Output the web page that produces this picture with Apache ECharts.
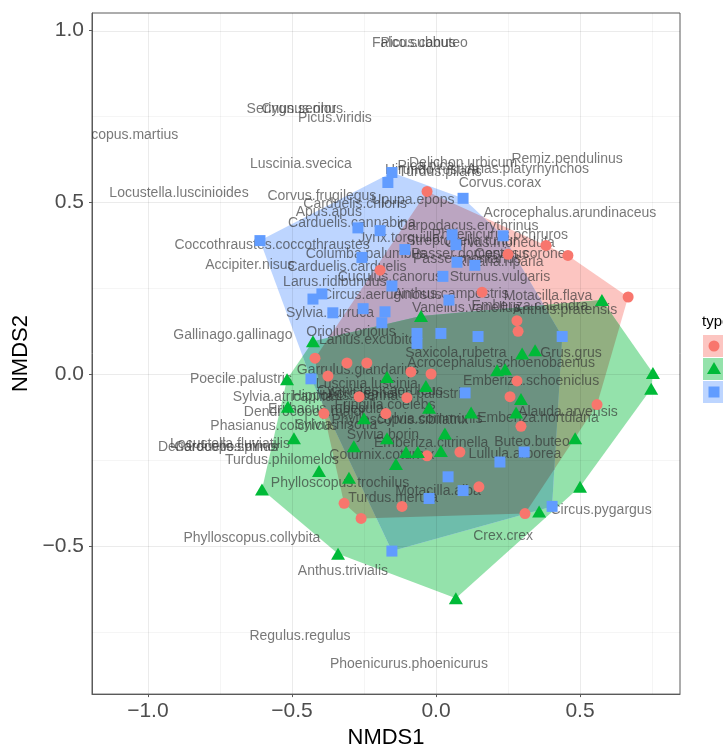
<!DOCTYPE html>
<html>
<head>
<meta charset="utf-8">
<script src="https://cdn.jsdelivr.net/npm/echarts@6/dist/echarts.min.js"></script>
<style>
  html, body { margin: 0; padding: 0; background: #ffffff; }
  #chart { width: 723px; height: 754px; }
</style>
</head>
<body>
<div id="chart"></div>
<script>
// ---- Axis ticks ----
const xTicks = [-1.0, -0.5, 0.0, 0.5];
const yTicks = [-0.5, 0.0, 0.5, 1.0];
const xMinor = [-0.75, -0.25, 0.25, 0.75];
const yMinor = [-0.75, -0.25, 0.25, 0.75];

// ---- Site scores, group 1 (red circles) ----
const siteX1 = [-0.031, 0.382, 0.250, 0.458, -0.194, 0.160, 0.667, 0.281, 0.285, -0.420,
                -0.309, -0.240, -0.375, -0.087, -0.017, -0.267, -0.101, -0.389, -0.174, -0.031,
                -0.319, -0.118, 0.281, 0.257, 0.559, 0.295, 0.083, 0.149, 0.309, -0.260];
const siteY1 = [0.532, 0.375, 0.349, 0.346, 0.303, 0.239, 0.225, 0.156, 0.125, 0.047,
                0.033, 0.033, -0.005, 0.007, 0.001, -0.065, -0.068, -0.114, -0.114, -0.237,
                -0.375, -0.384, -0.019, -0.065, -0.088, -0.151, -0.226, -0.327, -0.405, -0.419];

// ---- Site scores, group 2 (green triangles) ----
const siteX2 = [-0.052, -0.427, 0.576, 0.344, 0.299, 0.212, 0.240, 0.753, 0.747, -0.517,
                -0.170, -0.035, -0.514, -0.024, -0.250, 0.295, 0.122, 0.278, -0.493, -0.285,
                -0.170, 0.031, -0.104, -0.063, 0.017, -0.139, 0.483, -0.406, -0.302, -0.604,
                0.500, 0.358, -0.340, 0.069];
const siteY2 = [0.170, 0.096, 0.216, 0.070, 0.061, 0.012, 0.015, 0.004, -0.042, -0.014,
                -0.008, -0.034, -0.094, -0.097, -0.128, -0.072, -0.111, -0.111, -0.186, -0.209,
                -0.186, -0.172, -0.226, -0.226, -0.223, -0.261, -0.186, -0.281, -0.301, -0.335,
                -0.327, -0.399, -0.522, -0.651];

// ---- Site scores, group 3 (blue squares) ----
const siteX3 = [-0.153, -0.167, 0.094, -0.194, -0.611, -0.271, -0.108, -0.257, 0.056, 0.069,
                0.073, 0.135, 0.024, 0.233, -0.153, -0.396, -0.427, -0.358, -0.253, -0.177,
                -0.188, 0.045, -0.066, -0.066, 0.017, 0.146, 0.438, -0.434, 0.101, 0.306,
                0.222, 0.094, 0.042, -0.024, 0.403, -0.153];
const siteY3 = [0.587, 0.558, 0.512, 0.418, 0.389, 0.426, 0.363, 0.340, 0.406, 0.377,
                0.326, 0.317, 0.285, 0.403, 0.257, 0.234, 0.219, 0.179, 0.191, 0.182,
                0.150, 0.216, 0.119, 0.090, 0.119, 0.110, 0.110, -0.013, -0.054, -0.226,
                -0.255, -0.338, -0.298, -0.361, -0.384, -0.514];

// ---- Species scores ----
const speciesNames = [
  'Falco.subbuteo', 'Picus.canus', 'Serinus.serinus', 'Cygnus.olor', 'Picus.viridis',
  'Dryocopus.martius', 'Luscinia.svecica', 'Remiz.pendulinus', 'Locustella.luscinioides', 'Hirundo.rustica',
  'Pica.pica', 'Turdus.pilaris', 'Delichon.urbicum', 'Anas.platyrhynchos', 'Corvus.corax',
  'Upupa.epops', 'Corvus.frugilegus', 'Carduelis.chloris', 'Apus.apus', 'Carduelis.cannabina',
  'Coccothraustes.coccothraustes', 'Jynx.torquilla', 'Columba.palumbus', 'Accipiter.nisus', 'Carduelis.carduelis',
  'Cuculus.canorus', 'Larus.ridibundus', 'Circus.aeruginosus', 'Anthus.campestris', 'Sylvia.curruca',
  'Vanellus.vanellus', 'Emberiza.calandra', 'Anthus.pratensis', 'Motacilla.flava', 'Sturnus.vulgaris',
  'Acrocephalus.arundinaceus', 'Carpodacus.erythrinus', 'Phoenicurus.ochruros', 'Streptopelia.turtur', 'Corvus.monedula',
  'Passer.domesticus', 'Corvus.corone', 'Passer.montanus', 'Riparia.riparia', 'Gallinago.gallinago',
  'Oriolus.oriolus', 'Lanius.excubitor', 'Saxicola.rubetra', 'Grus.grus', 'Acrocephalus.schoenobaenus',
  'Emberiza.schoeniclus', 'Garrulus.glandarius', 'Poecile.palustris', 'Luscinia.luscinia', 'Acrocephalus.palustris',
  'Sylvia.atricapilla', 'Hippolais.icterina', 'Cyanistes.caeruleus', 'Fringilla.coelebs', 'Dendrocopos.major',
  'Erithacus.rubecula', 'Sylvia.communis', 'Emberiza.hortulana', 'Alauda.arvensis', 'Sylvia.borin',
  'Sylvia.nisoria', 'Phasianus.colchicus', 'Phylloscopus.sibilatrix', 'Emberiza.citrinella', 'Buteo.buteo',
  'Lullula.arborea', 'Locustella.fluviatilis', 'Dendrocopos.minor', 'Carduelis.spinus', 'Turdus.philomelos',
  'Coturnix.coturnix', 'Phylloscopus.trochilus', 'Motacilla.alba', 'Turdus.merula', 'Circus.pygargus',
  'Crex.crex', 'Phylloscopus.collybita', 'Anthus.trivialis', 'Regulus.regulus', 'Phoenicurus.phoenicurus'
];
const speciesX = [
  -0.056, -0.062, -0.490, -0.476, -0.351,
  -1.097, -0.469, 0.455, -0.892, -0.014,
  -0.035, 0.014, 0.094, 0.319, 0.222,
  -0.080, -0.396, -0.281, -0.372, -0.292,
  -0.569, -0.128, -0.243, -0.646, -0.309,
  -0.160, -0.351, -0.188, 0.052, -0.368,
  0.104, 0.326, 0.448, 0.389, 0.222,
  0.465, 0.111, 0.222, 0.090, 0.222,
  0.118, 0.292, 0.108, 0.222, -0.705,
  -0.295, -0.229, 0.069, 0.469, 0.226,
  0.330, -0.271, -0.677, -0.240, -0.132,
  -0.531, -0.316, -0.194, -0.177, -0.455,
  -0.382, -0.021, 0.354, 0.458, -0.184,
  -0.347, -0.563, -0.125, -0.017, 0.333,
  0.274, -0.715, -0.753, -0.729, -0.535,
  -0.188, -0.333, 0.007, -0.149, 0.573,
  0.233, -0.639, -0.323, -0.472, -0.094
];
const speciesY = [
  0.964, 0.964, 0.771, 0.771, 0.745,
  0.696, 0.610, 0.627, 0.527, 0.593,
  0.607, 0.589, 0.613, 0.598, 0.556,
  0.507, 0.518, 0.495, 0.472, 0.441,
  0.377, 0.395, 0.351, 0.317, 0.311,
  0.282, 0.268, 0.231, 0.234, 0.179,
  0.193, 0.199, 0.188, 0.228, 0.282,
  0.469, 0.432, 0.406, 0.386, 0.383,
  0.351, 0.351, 0.334, 0.326, 0.113,
  0.124, 0.099, 0.061, 0.061, 0.032,
  -0.019, 0.012, -0.014, -0.028, -0.059,
  -0.065, -0.062, -0.048, -0.091, -0.111,
  -0.100, -0.131, -0.128, -0.111, -0.177,
  -0.148, -0.151, -0.134, -0.200, -0.197,
  -0.232, -0.203, -0.211, -0.211, -0.250,
  -0.235, -0.315, -0.341, -0.361, -0.396,
  -0.470, -0.476, -0.571, -0.761, -0.844
];

// ---- Colours ----
const groupColors = ['#F8766D', '#00BA38', '#619CFF'];
// light tints of the group colours (RGB); overlapping hulls combine multiplicatively
const hullTints = [[252, 197, 193], [148, 226, 171], [189, 213, 255]];
const FONT = '"Liberation Sans", Arial, Helvetica, sans-serif';

function zip(xs, ys) { return xs.map((x, i) => [x, ys[i]]); }
function rgb(c) { return 'rgb(' + c.map(v => Math.round(v)).join(',') + ')'; }
function mul() {
  const out = [255, 255, 255];
  for (const c of arguments) for (let k = 0; k < 3; k++) out[k] = out[k] * c[k] / 255;
  return out;
}

const cross = (o, a, b) => (a[0] - o[0]) * (b[1] - o[1]) - (a[1] - o[1]) * (b[0] - o[0]);

// Andrew's monotone chain convex hull on pixel points
function convexHull(pts) {
  const p = pts.slice().sort((a, b) => a[0] - b[0] || a[1] - b[1]);
  const lower = [];
  for (const q of p) {
    while (lower.length >= 2 && cross(lower[lower.length - 2], lower[lower.length - 1], q) <= 0) lower.pop();
    lower.push(q);
  }
  const upper = [];
  for (let i = p.length - 1; i >= 0; i--) {
    const q = p[i];
    while (upper.length >= 2 && cross(upper[upper.length - 2], upper[upper.length - 1], q) <= 0) upper.pop();
    upper.push(q);
  }
  upper.pop(); lower.pop();
  return lower.concat(upper);
}

// Sutherland-Hodgman: intersection of two convex polygons with the same orientation
function clipPoly(subject, clip) {
  let out = subject;
  for (let i = 0; i < clip.length && out.length; i++) {
    const a = clip[i], b = clip[(i + 1) % clip.length];
    const inp = out; out = [];
    for (let j = 0; j < inp.length; j++) {
      const p = inp[j], q = inp[(j + 1) % inp.length];
      const cp = cross(a, b, p), cq = cross(a, b, q);
      if (cp >= 0) out.push(p);
      if ((cp >= 0) !== (cq >= 0)) {
        const t = cp / (cp - cq);
        out.push([p[0] + t * (q[0] - p[0]), p[1] + t * (q[1] - p[1])]);
      }
    }
  }
  return out;
}

const groupsX = [siteX1, siteX2, siteX3];
const groupsY = [siteY1, siteY2, siteY3];

// Grid lines (major and minor); drawn as translucent black so they show through the hulls
const gridLines = []
  .concat(xMinor.map(v => ({ v: v, dir: 'x', major: false })))
  .concat(yMinor.map(v => ({ v: v, dir: 'y', major: false })))
  .concat(xTicks.map(v => ({ v: v, dir: 'x', major: true })))
  .concat(yTicks.map(v => ({ v: v, dir: 'y', major: true })));

function fmt(v) {
  const s = Math.abs(v).toFixed(1);
  return v < -1e-9 ? '\u2212' + s : s;
}

const chart = echarts.init(document.getElementById('chart'), null, { renderer: 'canvas' });

const option = {
  animation: false,
  backgroundColor: '#ffffff',
  grid: { left: 92, top: 13, right: 43, bottom: 52, show: true, borderColor: '#5a5a5a', borderWidth: 1, backgroundColor: '#ffffff' },
  xAxis: {
    type: 'value', min: -1.194, max: 0.847, splitNumber: 4,
    axisLine: { show: true, onZero: false, lineStyle: { color: '#5a5a5a', width: 1 } },
    axisTick: { show: true, length: 3, customValues: xTicks, lineStyle: { color: '#5a5a5a' } },
    axisLabel: {
      customValues: xTicks, margin: 7, hideOverlap: false,
      color: '#4d4d4d', fontSize: 21, fontFamily: FONT,
      formatter: v => fmt(v)
    },
    splitLine: { show: false },
    name: 'NMDS1', nameLocation: 'middle', nameGap: 27,
    nameTextStyle: { color: '#000000', fontSize: 22, fontFamily: FONT }
  },
  yAxis: {
    type: 'value', min: -0.930, max: 1.051, splitNumber: 4,
    axisLine: { show: true, onZero: false, lineStyle: { color: '#5a5a5a', width: 1 } },
    axisTick: { show: true, length: 3, customValues: yTicks, lineStyle: { color: '#5a5a5a' } },
    axisLabel: {
      customValues: yTicks, margin: 8, hideOverlap: false,
      color: '#4d4d4d', fontSize: 21, fontFamily: FONT,
      formatter: v => fmt(v)
    },
    splitLine: { show: false },
    name: 'NMDS2', nameLocation: 'middle', nameGap: 55, nameRotate: 90,
    nameTextStyle: { color: '#000000', fontSize: 22, fontFamily: FONT }
  },
  series: [
    // convex hulls of each group, with their overlaps
    {
      type: 'custom', silent: true, clip: true, z: 1,
      data: [[siteX1[0], siteY1[0]]],
      encode: { x: 0, y: 1 },
      renderItem: function (params, api) {
        const hulls = groupsX.map((xs, g) => convexHull(xs.map((x, i) => api.coord([x, groupsY[g][i]]))));
        const parts = [];
        const add = (poly, color) => {
          if (poly.length >= 3) parts.push({ type: 'polygon', shape: { points: poly }, style: { fill: rgb(color) } });
        };
        add(hulls[0], hullTints[0]);
        add(hulls[1], hullTints[1]);
        add(hulls[2], hullTints[2]);
        const h01 = clipPoly(hulls[0], hulls[1]);
        add(h01, mul(hullTints[0], hullTints[1]));
        add(clipPoly(hulls[0], hulls[2]), mul(hullTints[0], hullTints[2]));
        add(clipPoly(hulls[1], hulls[2]), mul(hullTints[1], hullTints[2]));
        if (h01.length >= 3) add(clipPoly(h01, hulls[2]), mul(hullTints[0], hullTints[1], hullTints[2]));
        return { type: 'group', children: parts };
      }
    },
    {
      type: 'custom', silent: true, clip: true, z: 1.5,
      data: gridLines.map(g => g.dir === 'x' ? [g.v, 0] : [0, g.v]),
      encode: { x: 0, y: 1 },
      renderItem: function (params, api) {
        const g = gridLines[params.dataIndex];
        const cs = params.coordSys;
        const color = g.major ? 'rgba(0,0,0,0.078)' : 'rgba(0,0,0,0.04)';
        if (g.dir === 'x') {
          const px = Math.round(api.coord([g.v, 0])[0]) + 0.5;
          return { type: 'line', shape: { x1: px, y1: cs.y, x2: px, y2: cs.y + cs.height }, style: { stroke: color, lineWidth: 1 } };
        }
        const py = Math.round(api.coord([0, g.v])[1]) + 0.5;
        return { type: 'line', shape: { x1: cs.x, y1: py, x2: cs.x + cs.width, y2: py }, style: { stroke: color, lineWidth: 1 } };
      }
    },
    {
      type: 'custom', silent: true, clip: true, z: 2,
      data: zip(speciesX, speciesY),
      encode: { x: 0, y: 1 },
      renderItem: function (params, api) {
        const p = api.coord([api.value(0), api.value(1)]);
        return {
          type: 'text', x: p[0], y: p[1],
          style: {
            text: speciesNames[params.dataIndex], x: 0, y: 0,
            align: 'center', verticalAlign: 'middle',
            fill: 'rgba(50,50,50,0.66)', font: '14px ' + FONT
          }
        };
      }
    },
    { name: 'g1', type: 'scatter', z: 3, clip: true, symbol: 'circle', symbolSize: 11,
      itemStyle: { color: groupColors[0], opacity: 1 }, data: zip(siteX1, siteY1) },
    { name: 'g2', type: 'scatter', z: 3, clip: true, symbol: 'triangle', symbolSize: [14, 12],
      itemStyle: { color: groupColors[1], opacity: 1 }, data: zip(siteX2, siteY2) },
    { name: 'g3', type: 'scatter', z: 3, clip: true, symbol: 'rect', symbolSize: 11,
      itemStyle: { color: groupColors[2], opacity: 1 }, data: zip(siteX3, siteY3) }
  ],
  graphic: [
    { type: 'text', x: 702, y: 322, style: { text: 'type', font: '15px ' + FONT, fill: '#000', verticalAlign: 'middle' } },
    { type: 'rect', shape: { x: 703, y: 335, width: 23, height: 22 }, style: { fill: rgb(hullTints[0]) } },
    { type: 'circle', shape: { cx: 714, cy: 346, r: 5.5 }, style: { fill: groupColors[0] } },
    { type: 'rect', shape: { x: 703, y: 358, width: 23, height: 22 }, style: { fill: rgb(hullTints[1]) } },
    { type: 'polygon', shape: { points: [[714, 362], [721, 374], [707, 374]] }, style: { fill: groupColors[1] } },
    { type: 'rect', shape: { x: 703, y: 381, width: 23, height: 22 }, style: { fill: rgb(hullTints[2]) } },
    { type: 'rect', shape: { x: 708.5, y: 386.5, width: 11, height: 11 }, style: { fill: groupColors[2] } }
  ]
};

chart.setOption(option);
</script>
</body>
</html>
